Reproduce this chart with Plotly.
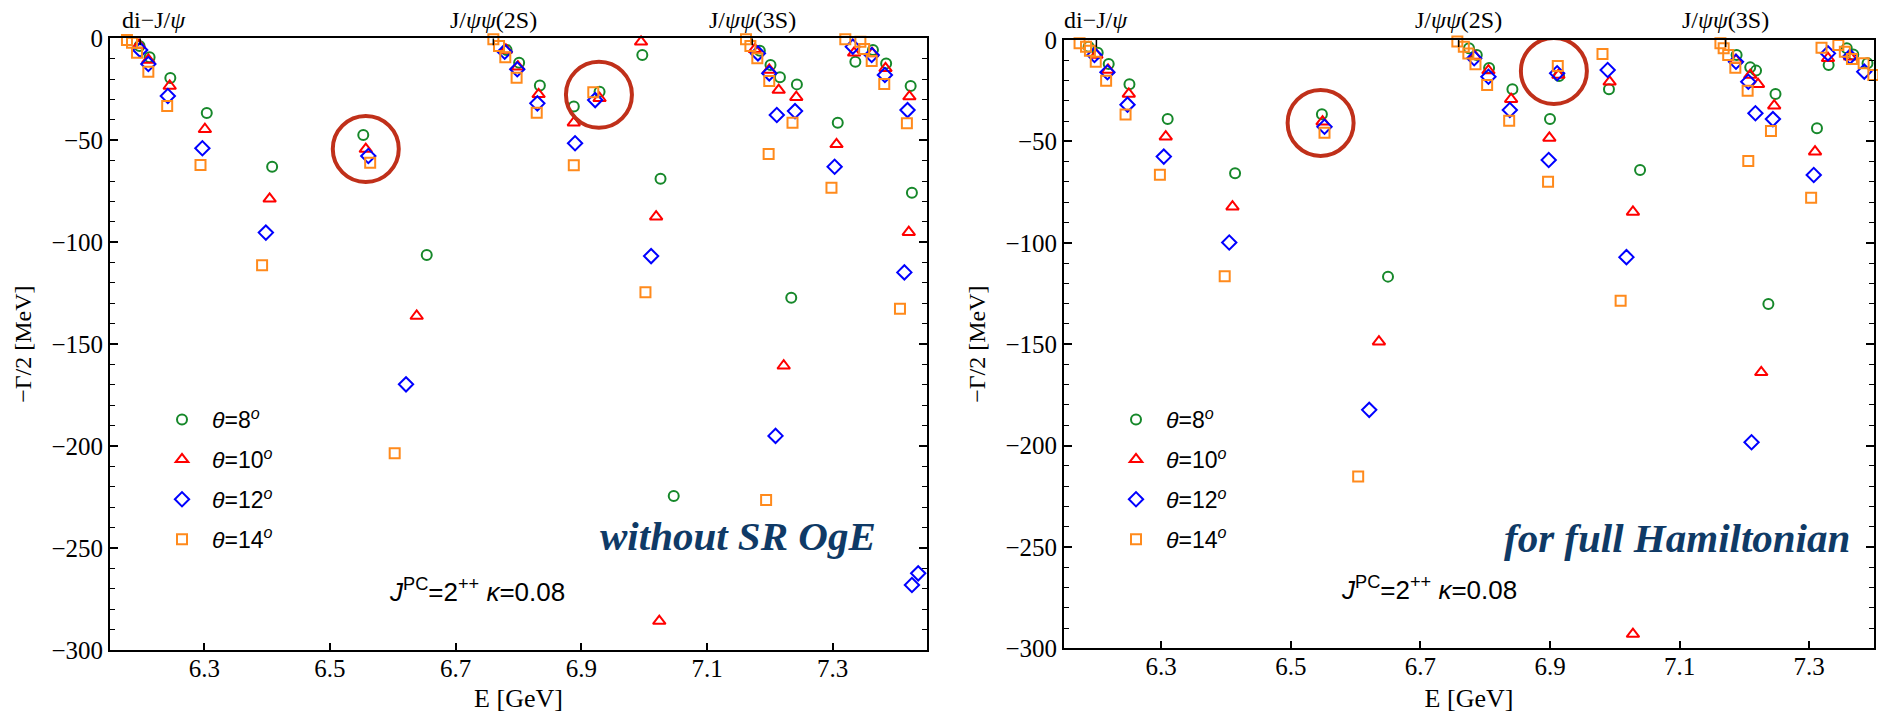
import plotly.graph_objects as go

# ---------------- data ----------------
# Left panel: "without SR OgE"
L_E8 = [6.197, 6.213, 6.246, 6.304, 6.408, 6.553, 6.654, 6.781, 6.801, 6.834, 6.888, 6.929, 6.997,
        7.026, 7.047, 7.184, 7.201, 7.216, 7.243, 7.234, 7.308, 7.336, 7.364, 7.385, 7.424, 7.426]
L_G8 = [-3.8, -9.3, -19.5, -36.6, -63.0, -47.4, -106.3, -5.7, -12.0, -23.1, -33.5, -26.2, -8.2,
        -68.9, -224.5, -6.1, -13.1, -19.1, -22.6, -127.2, -41.4, -11.5, -5.7, -12.3, -23.4, -75.7]

L_E10 = [6.196, 6.211, 6.245, 6.301, 6.404, 6.557, 6.638, 6.780, 6.799, 6.832, 6.888, 6.929, 6.995,
         7.019, 7.024, 7.176, 7.199, 7.214, 7.242, 7.222, 7.306, 7.334, 7.363, 7.384, 7.422, 7.421]
L_G10 = [-3.3, -10.6, -23.4, -44.6, -78.7, -54.3, -136.2, -5.7, -13.9, -27.5, -41.4, -29.4, -1.7,
         -87.5, -285.8, -5.4, -15.5, -25.4, -28.9, -160.6, -52.0, -7.1, -7.4, -14.7, -28.6, -95.1]

L_E12 = [6.198, 6.211, 6.242, 6.297, 6.398, 6.561, 6.621, 6.778, 6.798, 6.830, 6.890, 6.922, 7.011,
         7.181, 7.199, 7.211, 7.209, 7.240, 7.303, 7.332, 7.362, 7.383, 7.419, 7.414, 7.426, 7.436]
L_G12 = [-5.7, -12.6, -28.3, -53.9, -95.3, -57.7, -169.7, -6.6, -15.2, -31.9, -51.5, -30.3, -106.8,
         -7.4, -17.2, -37.6, -195.0, -35.7, -63.0, -4.1, -8.2, -18.0, -35.2, -114.8, -268.1, -262.4]

L_E14 = [6.177, 6.185, 6.193, 6.211, 6.241, 6.294, 6.392, 6.564, 6.603, 6.760, 6.769, 6.779, 6.797,
         6.829, 6.888, 6.919, 7.002, 7.162, 7.169, 7.180, 7.199, 7.198, 7.236, 7.298, 7.194, 7.320,
         7.344, 7.350, 7.362, 7.382, 7.418, 7.407]
L_G14 = [-0.8, -2.2, -7.1, -16.4, -33.2, -62.1, -111.3, -61.0, -203.5, -0.5, -3.8, -9.3, -19.3,
         -36.5, -62.3, -26.5, -124.6, -0.5, -3.8, -9.8, -20.9, -56.7, -41.4, -73.3, -226.4, -0.5,
         -1.7, -5.2, -11.1, -22.4, -41.7, -132.6]

# Right panel: "for full Hamiltonian"
R_E8 = [6.188, 6.202, 6.219, 6.251, 6.310, 6.414, 6.548, 6.650, 6.775, 6.787, 6.806, 6.842, 6.900,
        6.914, 6.991, 7.039, 7.188, 7.209, 7.218, 7.248, 7.237, 7.312, 7.330, 7.358, 7.368, 7.390]
R_G8 = [-3.3, -6.3, -11.8, -21.8, -39.0, -65.7, -36.6, -116.7, -4.1, -7.4, -13.8, -24.3, -39.0,
        -17.8, -24.3, -64.1, -7.4, -13.5, -15.1, -26.6, -130.2, -43.5, -12.3, -4.1, -7.1, -11.5]

R_E10 = [6.200, 6.218, 6.250, 6.307, 6.410, 6.549, 6.636, 6.784, 6.805, 6.840, 6.899, 6.913, 6.992,
         7.028, 7.028, 7.187, 7.209, 7.221, 7.246, 7.226, 7.309, 7.329, 7.363]
R_G10 = [-7.4, -14.8, -26.6, -47.7, -82.2, -40.3, -148.8, -7.9, -15.1, -29.2, -48.3, -17.3, -20.6,
         -84.8, -293.0, -9.9, -17.3, -21.8, -32.4, -163.9, -55.1, -9.0, -8.2]

R_E12 = [6.197, 6.217, 6.248, 6.304, 6.405, 6.552, 6.621, 6.783, 6.805, 6.838, 6.898, 6.911, 6.989,
         7.018, 7.187, 7.206, 7.217, 7.244, 7.211, 7.307, 7.329, 7.363, 7.385]
R_G12 = [-7.4, -15.9, -31.9, -57.5, -99.9, -42.8, -182.4, -9.0, -18.1, -34.5, -59.2, -16.4, -14.8,
         -107.1, -10.7, -20.6, -36.1, -39.0, -198.4, -66.6, -6.6, -8.2, -15.6]

R_E14 = [6.174, 6.184, 6.190, 6.199, 6.215, 6.245, 6.298, 6.398, 6.552, 6.604, 6.757, 6.767, 6.774,
         6.785, 6.803, 6.837, 6.897, 7.009, 6.912, 6.981, 7.163, 7.168, 7.175, 7.186, 7.205, 7.206,
         7.241, 7.303, 7.319, 7.345, 7.355, 7.366, 7.384, 7.399]
R_G14 = [-1.6, -3.3, -5.3, -10.7, -20.1, -36.8, -66.4, -116.5, -45.7, -215.3, -0.8, -3.3, -6.6,
         -12.0, -22.2, -39.8, -69.9, -128.6, -12.8, -6.9, -1.6, -4.1, -7.4, -13.7, -25.0, -59.7,
         -44.9, -77.8, -3.8, -2.5, -5.8, -9.4, -11.5, -17.3]

theta_names = ["<i>θ</i>=8<sup><i>o</i></sup>", "<i>θ</i>=10<sup><i>o</i></sup>",
               "<i>θ</i>=12<sup><i>o</i></sup>", "<i>θ</i>=14<sup><i>o</i></sup>"]

# thresholds marked on the top frame
L_thr = [6.198, 6.760, 7.172]
R_thr = [6.200, 6.759, 7.171]
thr_labels = ["di−J/<i>ψ</i>", "J/<i>ψψ</i>(2S)", "J/<i>ψψ</i>(3S)"]
L_thr_shift = [14, 0, 0]
R_thr_shift = [0, 0, 0]

# highlighted resonances (circle centres)
L_circ_E = [6.557, 6.928]
L_circ_G = [-54.3, -27.7]
R_circ_E = [6.546, 6.906]
R_circ_G = [-40.9, -15.3]

# ---------------- styles ----------------
colors = ["#16882a", "#ff0000", "#0000ff", "#ff8a1c"]
symbols = ["circle-open", "triangle-up-open", "diamond-open", "square-open"]
sizes = [10, 11, 11, 10]
SERIF = "Liberation Serif"
SANS = "Liberation Sans"
W, H = 1878, 713

fig = go.Figure()

left = [(L_E8, L_G8), (L_E10, L_G10), (L_E12, L_G12), (L_E14, L_G14)]
right = [(R_E8, R_G8), (R_E10, R_G10), (R_E12, R_G12), (R_E14, R_G14)]

for i, (ex, gy) in enumerate(left):
    fig.add_trace(go.Scatter(
        x=ex, y=gy, mode="markers", name=theta_names[i], xaxis="x", yaxis="y",
        legend="legend", legendgroup="L%d" % i, cliponaxis=False,
        marker=dict(symbol=symbols[i], color=colors[i], size=sizes[i],
                    line=dict(color=colors[i], width=2))))
for i, (ex, gy) in enumerate(right):
    fig.add_trace(go.Scatter(
        x=ex, y=gy, mode="markers", name=theta_names[i], xaxis="x2", yaxis="y2",
        legend="legend2", legendgroup="R%d" % i, cliponaxis=False,
        marker=dict(symbol=symbols[i], color=colors[i], size=sizes[i],
                    line=dict(color=colors[i], width=2))))


def xax(domain, rng, anchor):
    return dict(domain=domain, range=rng, anchor=anchor, tick0=6.3, dtick=0.2,
                ticks="inside", ticklen=7, tickwidth=1.5, tickcolor="black",
                ticklabelstandoff=-5,
                showline=True, linewidth=2, linecolor="black", mirror=True,
                showgrid=False, zeroline=False, automargin=False,
                tickfont=dict(family=SERIF, size=25, color="black"),
                title=dict(text="E [GeV]", font=dict(family=SERIF, size=26, color="black"),
                           standoff=10))


def yax(domain, anchor):
    return dict(domain=domain, range=[-300, 0], anchor=anchor, tickmode="array",
                tickvals=[0, -50, -100, -150, -200, -250, -300],
                ticks="inside", ticklen=8, tickwidth=1.5, tickcolor="black",
                minor=dict(dtick=10, ticks="inside", ticklen=5, tickwidth=1.2, tickcolor="black"),
                showline=True, linewidth=2, linecolor="black", mirror="ticks",
                showgrid=False, zeroline=False, automargin=False,
                tickfont=dict(family=SERIF, size=25, color="black"),
                title=dict(text="−Γ/2 [MeV]", font=dict(family=SERIF, size=24, color="black"),
                           standoff=13))


legend_common = dict(xanchor="left", yanchor="top",
                     font=dict(family=SANS, size=23, color="black"),
                     bgcolor="rgba(0,0,0,0)", tracegroupgap=7, itemwidth=50)

fig.update_layout(
    width=W, height=H, margin=dict(l=0, r=0, t=0, b=0),
    paper_bgcolor="white", plot_bgcolor="white",
    xaxis=xax([110 / W, 927 / W], [6.15, 7.45], "y"),
    yaxis=yax([1 - 650 / H, 1 - 38.3 / H], "x"),
    xaxis2=xax([1064 / W, 1874 / W], [6.15, 7.40], "y2"),
    yaxis2=yax([1 - 648.3 / H, 1 - 40 / H], "x2"),
    legend=dict(x=152 / W, y=1 - 398 / H, **legend_common),
    legend2=dict(x=1106 / W, y=1 - 398 / H, **legend_common),
)

shapes = []
annotations = []
for thr, shifts, xr, yr in [(L_thr, L_thr_shift, "x", "y"), (R_thr, R_thr_shift, "x2", "y2")]:
    for t, s, lab in zip(thr, shifts, thr_labels):
        shapes.append(dict(type="line", xref=xr, yref=yr, x0=t, x1=t, ysizemode="pixel",
                           yanchor=0, y0=0, y1=-7, line=dict(color="black", width=1.5)))
        annotations.append(dict(text=lab, xref=xr, yref="paper", x=t, y=1 - 20 / H, xshift=s,
                                xanchor="center", yanchor="middle", showarrow=False,
                                font=dict(family=SERIF, size=24, color="black")))

for ce, cg, xr, yr in [(L_circ_E, L_circ_G, "x", "y"), (R_circ_E, R_circ_G, "x2", "y2")]:
    for e, g in zip(ce, cg):
        shapes.append(dict(type="circle", xref=xr, yref=yr, xsizemode="pixel", ysizemode="pixel",
                           xanchor=e, yanchor=g, x0=-33, x1=33, y0=-33, y1=33,
                           line=dict(color="#c0301a", width=4)))

jpc = "<i>J</i><sup>PC</sup>=2<sup>++</sup> <i>κ</i>=0.08"
annotations.append(dict(text=jpc, xref="paper", yref="paper", x=477 / W, y=1 - 590 / H,
                        xanchor="center", yanchor="middle", showarrow=False,
                        font=dict(family=SANS, size=26, color="black")))
annotations.append(dict(text=jpc, xref="paper", yref="paper", x=1429 / W, y=1 - 588 / H,
                        xanchor="center", yanchor="middle", showarrow=False,
                        font=dict(family=SANS, size=26, color="black")))
annotations.append(dict(text="<b><i>without SR OgE</i></b>", xref="paper", yref="paper",
                        x=738 / W, y=1 - 536 / H, xanchor="center", yanchor="middle",
                        showarrow=False, bgcolor="white",
                        font=dict(family=SERIF, size=41, color="#0f3a66")))
annotations.append(dict(text="<b><i>for full Hamiltonian</i></b>", xref="paper", yref="paper",
                        x=1677 / W, y=1 - 538 / H, xanchor="center", yanchor="middle",
                        showarrow=False,
                        font=dict(family=SERIF, size=41, color="#0f3a66")))

fig.update_layout(shapes=shapes, annotations=annotations)
fig.write_html("out.html", config={"displayModeBar": False},
               post_script="document.body.style.margin='0px';document.body.style.overflow='hidden';")
